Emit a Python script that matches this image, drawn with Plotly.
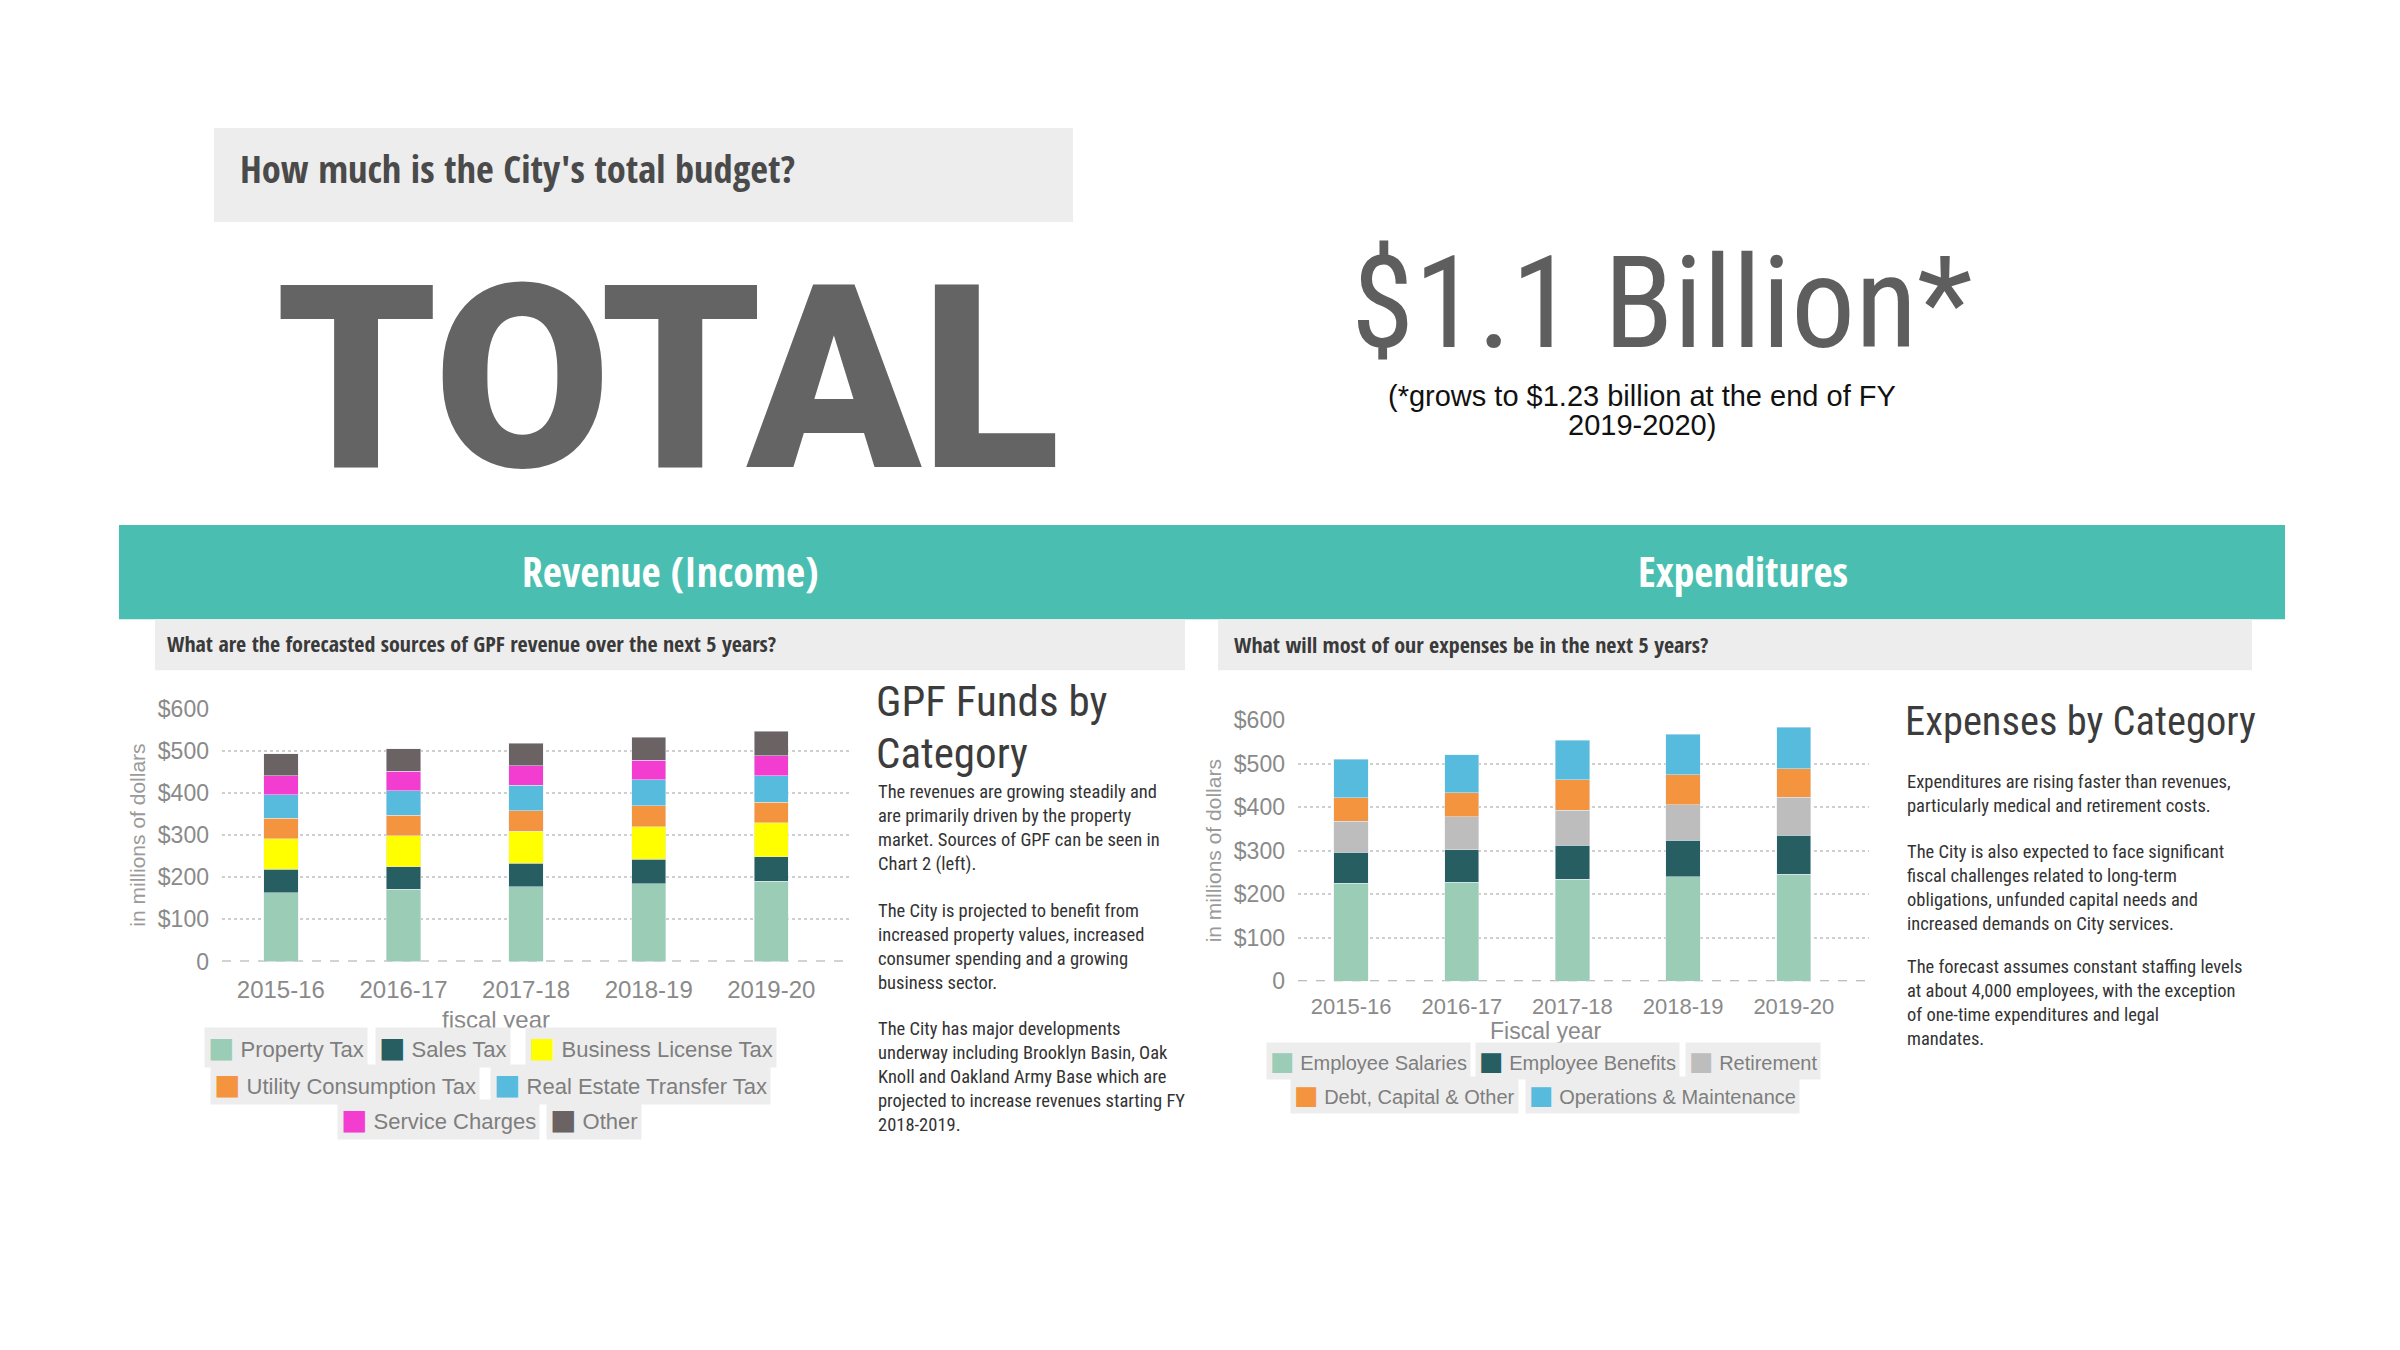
import plotly.graph_objects as go

W, H = 2400, 1350
OFF = 8  # page body margin of the exported html
def X(px): return (px - OFF) / W
def Y(py): return 1 - (py - OFF) / H

# ---------------- data ----------------
years = ["2015-16", "2016-17", "2017-18", "2018-19", "2019-20"]

rev_names = ["Property Tax", "Sales Tax", "Business License Tax", "Utility Consumption Tax",
             "Real Estate Transfer Tax", "Service Charges", "Other"]
property_tax = [163, 171, 177, 185, 190]
sales_tax = [56, 54, 56, 57, 59]
business_license_tax = [72, 73, 76, 77, 80]
utility_consumption_tax = [49, 49, 49, 50, 49]
real_estate_transfer_tax = [56, 58, 60, 62, 63]
service_charges = [45, 46, 46, 46, 47]
other_rev = [52, 54, 54, 55, 58]
rev_values = [property_tax, sales_tax, business_license_tax, utility_consumption_tax,
              real_estate_transfer_tax, service_charges, other_rev]

exp_names = ["Employee Salaries", "Employee Benefits", "Retirement",
             "Debt, Capital & Other", "Operations & Maintenance"]
employee_salaries = [225, 228, 234, 240, 246]
employee_benefits = [72, 74, 78, 84, 90]
retirement = [71, 76, 81, 82, 87]
debt_capital_other = [54, 55, 70, 69, 66]
operations_maintenance = [88, 88, 91, 93, 95]
exp_values = [employee_salaries, employee_benefits, retirement,
              debt_capital_other, operations_maintenance]

y_tickvals = [0, 100, 200, 300, 400, 500, 600]
y_ticktext = ["0", "$100", "$200", "$300", "$400", "$500", "$600"]

# ---------------- styles ----------------
MINT, DTEAL, YELLOW, ORANGE = "#9BCCB6", "#265E62", "#FFFF00", "#F4943E"
BLUE, MAGENTA, BROWN, LGRAY = "#56BBDD", "#F23DD0", "#6B6264", "#BDBDBD"
rev_colors = [MINT, DTEAL, YELLOW, ORANGE, BLUE, MAGENTA, BROWN]
exp_colors = [MINT, DTEAL, LGRAY, ORANGE, BLUE]

COND = "Roboto Condensed, DejaVu Sans Condensed, sans-serif"
CONDB = "Open Sans Condensed, Roboto Condensed, sans-serif"
SANS = "Liberation Sans, Arial, sans-serif"
TEAL = "#4ABFB1"
BOXGRAY = "#EDEDED"
AXGRAY = "#8A8A8A"

fig = go.Figure()
for name, vals, col in zip(rev_names, rev_values, rev_colors):
    fig.add_trace(go.Bar(x=years, y=vals, name=name, marker_color=col, width=0.28,
                         xaxis="x", yaxis="y", showlegend=False))
for name, vals, col in zip(exp_names, exp_values, exp_colors):
    fig.add_trace(go.Bar(x=years, y=vals, name=name, marker_color=col, width=0.31,
                         xaxis="x2", yaxis="y2", showlegend=False))

xaxis_common = dict(showline=False, zeroline=False, ticks="", showgrid=False)
yaxis_common = dict(showline=False, zeroline=False, ticks="",
                    tickfont=dict(family=SANS, size=23, color=AXGRAY),
                    range=[0, 600], tickvals=y_tickvals, ticktext=y_ticktext,
                    showgrid=True, gridcolor="#CFCFCF", griddash="dot", gridwidth=2,
                    ticklabelstandoff=12)
ytitle = dict(text="in millions of dollars", font=dict(family=SANS, size=21, color="#9A9A9A"),
              standoff=6)

fig.update_layout(
    width=W, height=H, margin=dict(l=0, r=0, t=0, b=0),
    paper_bgcolor="white", plot_bgcolor="rgba(0,0,0,0)",
    barmode="stack", showlegend=False,
    xaxis=dict(xaxis_common, domain=[X(222), X(851)], range=[-0.48, 4.65],
               tickfont=dict(family=SANS, size=24, color=AXGRAY), ticklabelstandoff=11),
    yaxis=dict(yaxis_common, domain=[Y(967), Y(709)], title=ytitle),
    xaxis2=dict(xaxis_common, domain=[X(1298), X(1869)], range=[-0.48, 4.68], anchor="y2",
                tickfont=dict(family=SANS, size=22, color=AXGRAY), ticklabelstandoff=10),
    yaxis2=dict(yaxis_common, domain=[Y(987), Y(721)], anchor="x2", title=ytitle),
)

def prect(x0, x1, y0, y1, color):
    return dict(type="rect", xref="paper", yref="paper", x0=X(x0), x1=X(x1), y0=Y(y1), y1=Y(y0),
                fillcolor=color, line_width=0, layer="below")

shapes = [
    prect(214, 1073, 117, 213, BOXGRAY),      # top question box
    prect(119, 2285, 522, 618, TEAL),         # teal banner
    prect(155, 1185, 618, 670, BOXGRAY),      # left sub question box
    prect(1218, 2252, 618, 670, BOXGRAY),     # right sub question box
    dict(type="line", xref="x domain", yref="y", x0=0, x1=1, y0=0, y1=0,
         line=dict(color="#A8A8A8", width=2, dash="dash"), layer="below"),
    dict(type="line", xref="x2 domain", yref="y2", x0=0, x1=1, y0=0, y1=0,
         line=dict(color="#A8A8A8", width=2, dash="dash"), layer="below"),
]
fig.update_layout(shapes=shapes)

ann = []
def text(x, y, t, size, color="#333333", family=COND, xanchor="left", yanchor="middle",
         align="left", **kw):
    ann.append(dict(xref="paper", yref="paper", x=X(x), y=Y(y), text=t, showarrow=False,
                    xanchor=xanchor, yanchor=yanchor, align=align,
                    font=dict(family=family, size=size, color=color, **kw)))

text(238, 158, "How much is the City's total budget?", 38.5, color="#4A4A4A", family=CONDB,
     weight="bold")
text(668, 374, "TOTAL", 256, color="#646464", family="Roboto, Liberation Sans, sans-serif",
     xanchor="center", weight=900)
text(1661, 296, "$1.1 Billion*", 128, color="#5E5E5E", xanchor="center")
text(1642, 390, "(*grows to $1.23 billion at the end of FY", 29, color="#111111",
     family=SANS, xanchor="center")
text(1642, 420, "2019-2020)", 29, color="#111111", family=SANS, xanchor="center")
text(670, 569, "Revenue (Income)", 41.5, color="white", family=CONDB, xanchor="center",
     weight="bold")
text(1743, 569, "Expenditures", 41.5, color="white", family=CONDB, xanchor="center",
     weight="bold")
text(165, 642, "What are the forecasted sources of GPF revenue over the next 5 years?", 22,
     color="#3A3A3A", family=CONDB, weight="bold")
text(1232, 643, "What will most of our expenses be in the next 5 years?", 22,
     color="#3A3A3A", family=CONDB, weight="bold")

# x axis titles (placed where the reference puts them)
text(496, 1026, "fiscal year", 24, color=AXGRAY, family=SANS, xanchor="center")
text(1546, 1038, "Fiscal year", 23, color=AXGRAY, family=SANS, xanchor="center")

# left text block
text(874, 701, "GPF Funds by", 43, color="#3C3C3C")
text(874, 754, "Category", 43, color="#3C3C3C")
text(876, 781, "The revenues are growing steadily and<br>are primarily driven by the property<br>"
     "market. Sources of GPF can be seen in<br>Chart 2 (left).", 18.5, yanchor="top")
text(876, 902, "The City is projected to benefit from<br>increased property values, increased<br>"
     "consumer spending and a growing<br>business sector.", 18.5, yanchor="top")
text(876, 1023, "The City has major developments<br>underway including Brooklyn Basin, Oak<br>"
     "Knoll and Oakland Army Base which are<br>projected to increase revenues starting FY<br>"
     "2018-2019.", 18.5, yanchor="top")

# right text block
text(1903, 722, "Expenses by Category", 40.5, color="#3C3C3C")
text(1905, 771, "Expenditures are rising faster than revenues,<br>particularly medical and retirement costs.",
     18.5, yanchor="top")
text(1905, 842, "The City is also expected to face significant<br>fiscal challenges related to long-term<br>"
     "obligations, unfunded capital needs and<br>increased demands on City services.",
     18.5, yanchor="top")
text(1905, 959, "The forecast assumes constant staffing levels<br>at about 4,000 employees, with the exception<br>"
     "of one-time expenditures and legal<br>mandates.", 18.5, yanchor="top")

# legend chips
def chip(x, y, label, color, size, sq):
    ann.append(dict(xref="paper", yref="paper", x=X(x), y=Y(y), showarrow=False,
                    xanchor="left", yanchor="middle", bgcolor=BOXGRAY, borderpad=3,
                    text=f'<span style="color:{color};font-family:DejaVu Sans;font-size:{sq}px">■</span> {label}',
                    font=dict(family=SANS, size=size, color="#7E7E7E")))

rev_chip_pos = [(204, 1055), (375, 1055), (525, 1055), (210, 1092), (490, 1092),
                (337, 1128), (546, 1128)]
for (cx, cy), name, col in zip(rev_chip_pos, rev_names, rev_colors):
    chip(cx, cy, name, col, 22, 28)
exp_chip_pos = [(1266, 1068), (1475, 1068), (1685, 1068), (1290, 1103), (1525, 1103)]
for (cx, cy), name, col in zip(exp_chip_pos, exp_names, exp_colors):
    chip(cx, cy, name, col, 20, 26)

fig.update_layout(annotations=ann)
fig.write_html("out.html")
